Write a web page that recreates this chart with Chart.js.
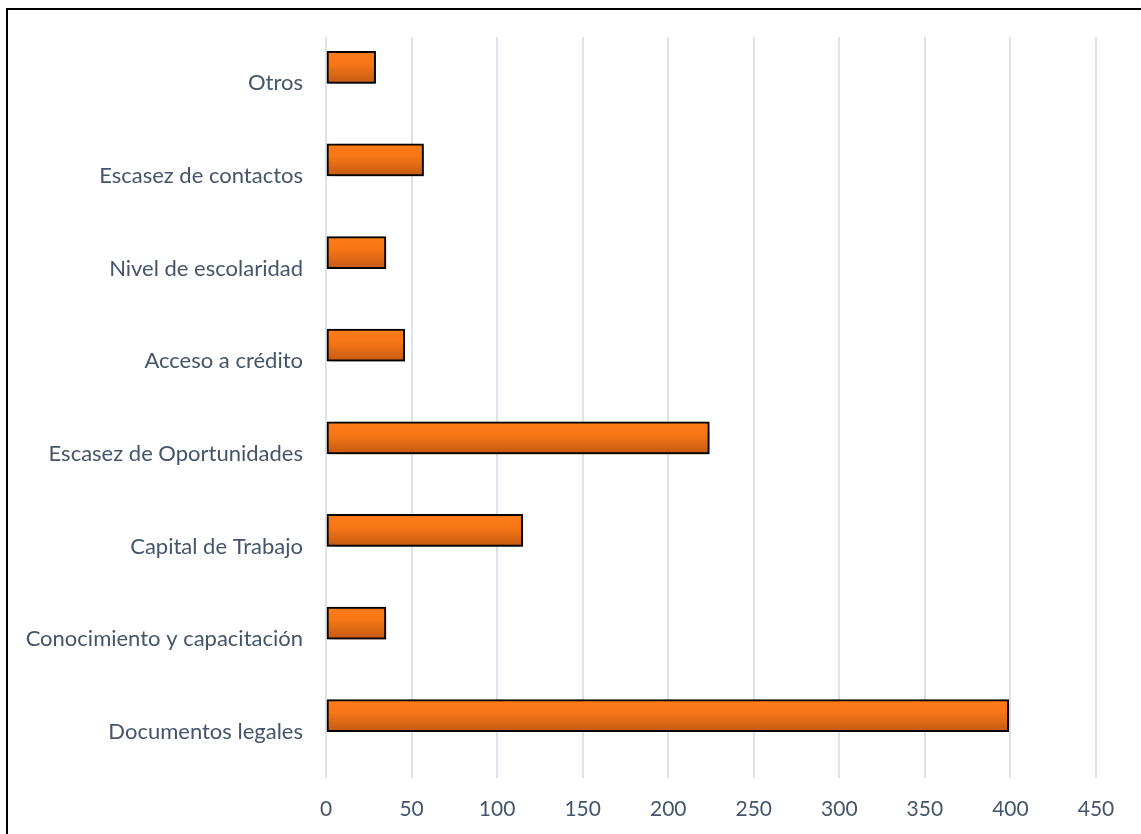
<!DOCTYPE html>
<html>
<head>
<meta charset="utf-8">
<script src="https://cdn.jsdelivr.net/npm/chart.js@4/dist/chart.umd.min.js"></script>
<style>
    html, body {
        margin: 0;
        padding: 0;
        background: #ffffff;
        overflow: hidden;
    }

    .wrap {
        position: relative;
        width: 1141px;
        height: 834px;
    }

    .frame {
        position: absolute;
        left: 6px;
        top: 8px;
        width: 1200px;
        height: 900px;
        border: 2px solid #000000;
        box-sizing: border-box;
    }

    canvas {
        position: absolute;
        left: 0;
        top: 0;
    }
</style>
</head>
<body>
<div class="wrap">
    <div class="frame"></div>
    <canvas id="chart" width="1141" height="834"></canvas>
</div>

<script>
const categories = [
    "Otros",
    "Escasez de contactos",
    "Nivel de escolaridad",
    "Acceso a crédito",
    "Escasez de Oportunidades",
    "Capital de Trabajo",
    "Conocimiento y capacitación",
    "Documentos legales"
];

const values = [29, 57, 35, 46, 224, 115, 35, 399];

// empty second series: it keeps the lower half of each slot free,
// so the orange bars sit above the label line like in the original
const emptySeries = [null, null, null, null, null, null, null, null];

const xTicks = [0, 50, 100, 150, 200, 250, 300, 350, 400, 450];

const textColor = "#44546a";
const fontFamily = "Lato, 'Open Sans', sans-serif";

// soft shadow under the bars
const barShadow = {
    id: "barShadow",
    beforeDatasetDraw(chart) {
        const ctx = chart.ctx;
        ctx.save();
        ctx.shadowColor = "rgba(0,0,0,0.45)";
        ctx.shadowBlur = 6;
        ctx.shadowOffsetX = 3;
        ctx.shadowOffsetY = 4;
    },
    afterDatasetDraw(chart) {
        chart.ctx.restore();
    }
};

function barGradient(context) {
    const chart = context.chart;
    const yScale = chart.scales.y;
    if (!yScale) {
        return "#f47216";
    }
    const y = yScale.getPixelForValue(context.dataIndex) - 16;
    if (!isFinite(y)) {
        return "#f47216";
    }
    const g = chart.ctx.createLinearGradient(0, y - 16, 0, y + 16);
    g.addColorStop(0, "#ff7b18");
    g.addColorStop(0.4, "#f77616");
    g.addColorStop(1, "#c45a12");
    return g;
}

new Chart(
    document.getElementById("chart").getContext("2d"),
{
    type: "bar",

    data: {
        labels: categories,
        datasets: [{
            data: values,
            backgroundColor: barGradient,
            borderColor: "#000000",
            borderWidth: 2,
            borderSkipped: false,
            barThickness: 32
        }, {
            data: emptySeries,
            backgroundColor: "rgba(0,0,0,0)",
            borderWidth: 0,
            barThickness: 32
        }]
    },

    plugins: [barShadow],

    options: {
        indexAxis: "y",
        responsive: false,
        animation: false,
        layout: {
            padding: { top: 37, right: 45, bottom: 0, left: 0 }
        },
        plugins: {
            legend: { display: false },
            tooltip: { enabled: false }
        },
        scales: {
            x: {
                min: 0,
                max: 450,
                afterBuildTicks(axis) {
                    axis.ticks = xTicks.map(v => ({ value: v }));
                },
                afterFit(axis) {
                    axis.height = 56;
                },
                grid: {
                    color: "#dde2e9",
                    lineWidth: 2,
                    drawTicks: false
                },
                border: { display: false },
                ticks: {
                    color: textColor,
                    padding: 19,
                    font: { family: fontFamily, size: 21 }
                }
            },
            y: {
                afterFit(axis) {
                    axis.width = 326;
                },
                grid: { display: false, drawTicks: false },
                border: { display: false },
                ticks: {
                    color: textColor,
                    padding: 23,
                    font: { family: fontFamily, size: 22 }
                }
            }
        }
    }
});
</script>
</body>
</html>
